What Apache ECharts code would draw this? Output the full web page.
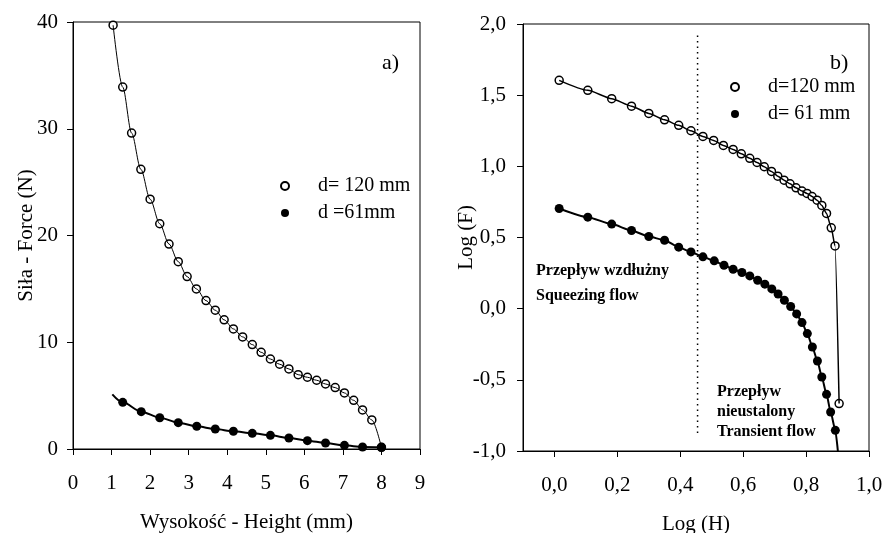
<!DOCTYPE html>
<html>
<head>
<meta charset="utf-8">
<script src="https://cdn.jsdelivr.net/npm/echarts@6/dist/echarts.min.js"></script>
<style>
  html, body { margin: 0; padding: 0; background: #fff; }
  #chart { width: 887px; height: 533px; }
</style>
</head>
<body>
<div id="chart"></div>
<script>
// panel a) height H (mm) vs force F (N)
const a120 = [
  [1.04, 39.7], [1.29, 33.9], [1.52, 29.6], [1.76, 26.2], [2.0, 23.4], [2.25, 21.1],
  [2.49, 19.2], [2.73, 17.55], [2.96, 16.15], [3.2, 15.0], [3.45, 13.9], [3.69, 13.0],
  [3.92, 12.1], [4.16, 11.25], [4.4, 10.5], [4.65, 9.78], [4.88, 9.06], [5.12, 8.43],
  [5.36, 7.94], [5.6, 7.5], [5.84, 6.96], [6.08, 6.72], [6.32, 6.44], [6.55, 6.09],
  [6.8, 5.75], [7.04, 5.25], [7.28, 4.56], [7.51, 3.66], [7.75, 2.72], [8.0, 0.16]
];
const a61 = [
  [1.29, 4.37], [1.77, 3.5], [2.25, 2.93], [2.73, 2.47], [3.21, 2.13], [3.69, 1.87],
  [4.16, 1.66], [4.65, 1.47], [5.12, 1.28], [5.6, 1.03], [6.08, 0.78], [6.55, 0.56],
  [7.04, 0.34], [7.51, 0.19], [8.0, 0.16]
];
const a61Start = [1.02, 5.12];

// panel b) log H vs log F
const b120 = [
  [0.015, 1.604], [0.106, 1.534], [0.182, 1.475], [0.245, 1.423], [0.3, 1.372],
  [0.35, 1.327], [0.395, 1.288], [0.434, 1.25], [0.472, 1.21], [0.506, 1.182],
  [0.537, 1.147], [0.568, 1.119], [0.594, 1.088], [0.621, 1.056], [0.644, 1.027],
  [0.667, 0.997], [0.69, 0.964], [0.71, 0.931], [0.73, 0.903], [0.749, 0.877],
  [0.768, 0.849], [0.787, 0.826], [0.803, 0.81], [0.819, 0.788], [0.835, 0.762],
  [0.85, 0.725], [0.865, 0.669], [0.88, 0.568], [0.892, 0.441], [0.905, -0.667]
];
const b61 = [
  [0.015, 0.704], [0.106, 0.643], [0.182, 0.594], [0.245, 0.549], [0.3, 0.507],
  [0.35, 0.481], [0.395, 0.432], [0.434, 0.399], [0.472, 0.364], [0.508, 0.336],
  [0.539, 0.305], [0.568, 0.277], [0.596, 0.254], [0.621, 0.23], [0.646, 0.2],
  [0.669, 0.172], [0.691, 0.139], [0.711, 0.103], [0.731, 0.059], [0.751, 0.015],
  [0.77, -0.037], [0.787, -0.098], [0.804, -0.175], [0.82, -0.269], [0.836, -0.368],
  [0.85, -0.48], [0.865, -0.602], [0.878, -0.726], [0.893, -0.855]
];
const b61End = [0.901, -1.0];
const divider = [[0.455, 1.92], [0.455, -0.88]];

const bTicks = [0, 0.2, 0.4, 0.6, 0.8, 1.0];

const serif = 'Liberation Serif';
const comma = (v) => v.toFixed(1).replace('.', ',');

const myChart = echarts.init(document.getElementById('chart'));

function axisBase() {
  return {
    axisLine: { show: true, onZero: false, lineStyle: { color: '#000', width: 1 } },
    axisTick: { show: true, inside: false, length: 6, lineStyle: { color: '#000' } },
    splitLine: { show: false },
    nameMoveOverlap: false,
    nameTextStyle: { color: '#000', fontFamily: serif, fontSize: 21 },
  };
}

const tickFont = { color: '#000', fontFamily: serif, fontSize: 21 };
const openDot = { color: '#fff', borderColor: '#000', borderWidth: 1.5, opacity: 1 };
const fullDot = { color: '#000', opacity: 1 };
const noteFont = 'bold 16px "Liberation Serif"';

const option = {
  animation: false,
  backgroundColor: '#fff',
  grid: [
    { left: 73, top: 22, width: 347, height: 427, show: true, borderColor: '#000', borderWidth: 1, outerBoundsMode: 'none', containLabel: false },
    { left: 523, top: 24, width: 346, height: 427, show: true, borderColor: '#000', borderWidth: 1, outerBoundsMode: 'none', containLabel: false },
  ],
  xAxis: [
    Object.assign(axisBase(), {
      gridIndex: 0, type: 'value', min: 0, max: 9, interval: 1,
      name: 'Wysokość - Height (mm)', nameLocation: 'middle', nameGap: 63,
      axisLabel: Object.assign({ margin: 24 }, tickFont),
    }),
    Object.assign(axisBase(), {
      gridIndex: 1, type: 'value', min: -0.1, max: 1.0, interval: 0.1,
      name: 'Log (H)', nameLocation: 'middle', nameGap: 63,
      axisTick: { show: true, length: 6, lineStyle: { color: '#000' }, customValues: bTicks },
      axisLabel: Object.assign({ margin: 24, customValues: bTicks, formatter: comma }, tickFont),
    }),
  ],
  yAxis: [
    Object.assign(axisBase(), {
      gridIndex: 0, type: 'value', min: 0, max: 40, interval: 10,
      name: 'Siła - Force (N)', nameLocation: 'middle', nameGap: 36,
      axisLabel: Object.assign({ margin: 15 }, tickFont),
    }),
    Object.assign(axisBase(), {
      gridIndex: 1, type: 'value', min: -1, max: 2, interval: 0.5,
      name: 'Log (F)', nameLocation: 'middle', nameGap: 46,
      axisLabel: Object.assign({ margin: 17, formatter: comma }, tickFont),
    }),
  ],
  legend: [
    {
      left: 275, top: 171, orient: 'vertical', itemWidth: 30, itemHeight: 8, itemGap: 7,
      data: ['d= 120 mm', 'd =61mm'],
      textStyle: { color: '#000', fontFamily: serif, fontSize: 20, padding: [0, 0, 0, 13] },
    },
    {
      left: 725, top: 72, orient: 'vertical', itemWidth: 30, itemHeight: 8, itemGap: 7,
      data: ['d=120 mm', 'd= 61 mm'],
      textStyle: { color: '#000', fontFamily: serif, fontSize: 20, padding: [0, 0, 0, 13] },
    },
  ],
  graphic: [
    { type: 'text', left: 382, top: 52, style: { text: 'a)', font: '22px "Liberation Serif"', fill: '#000' } },
    { type: 'text', left: 830, top: 52, style: { text: 'b)', font: '22px "Liberation Serif"', fill: '#000' } },
    { type: 'text', left: 536, top: 263, style: { text: 'Przepływ wzdłużny', font: noteFont, fill: '#000' } },
    { type: 'text', left: 536, top: 288, style: { text: 'Squeezing flow', font: noteFont, fill: '#000' } },
    { type: 'text', left: 717, top: 384, style: { text: 'Przepływ', font: noteFont, fill: '#000' } },
    { type: 'text', left: 717, top: 404, style: { text: 'nieustalony', font: noteFont, fill: '#000' } },
    { type: 'text', left: 717, top: 424, style: { text: 'Transient flow', font: noteFont, fill: '#000' } },
  ],
  series: [
    // panel a
    {
      type: 'line', xAxisIndex: 0, yAxisIndex: 0, data: a120, smooth: 0.3, smoothMonotone: 'x',
      symbol: 'none', lineStyle: { color: '#000', width: 1 }, silent: true,
    },
    {
      type: 'line', xAxisIndex: 0, yAxisIndex: 0, data: [a61Start].concat(a61), smooth: 0.3, smoothMonotone: 'x',
      symbol: 'none', lineStyle: { color: '#000', width: 2 }, silent: true,
    },
    {
      name: 'd= 120 mm', type: 'scatter', xAxisIndex: 0, yAxisIndex: 0, data: a120,
      symbol: 'circle', symbolSize: 8, itemStyle: openDot,
    },
    {
      name: 'd =61mm', type: 'scatter', xAxisIndex: 0, yAxisIndex: 0, data: a61,
      symbol: 'circle', symbolSize: 9, itemStyle: fullDot,
    },
    // panel b
    {
      type: 'line', xAxisIndex: 1, yAxisIndex: 1, data: divider, symbol: 'none',
      lineStyle: { color: '#000', width: 1.5, type: [1.5, 4] }, silent: true,
    },
    {
      type: 'line', xAxisIndex: 1, yAxisIndex: 1, data: b120, smooth: 0.2, smoothMonotone: 'x',
      symbol: 'none', lineStyle: { color: '#000', width: 1.5 }, silent: true,
    },
    {
      type: 'line', xAxisIndex: 1, yAxisIndex: 1, data: b61.concat([b61End]), smooth: 0.2, smoothMonotone: 'x',
      symbol: 'none', lineStyle: { color: '#000', width: 2 }, silent: true,
    },
    {
      name: 'd=120 mm', type: 'scatter', xAxisIndex: 1, yAxisIndex: 1, data: b120,
      symbol: 'circle', symbolSize: 8, itemStyle: openDot,
    },
    {
      name: 'd= 61 mm', type: 'scatter', xAxisIndex: 1, yAxisIndex: 1, data: b61,
      symbol: 'circle', symbolSize: 9, itemStyle: fullDot,
    },
  ],
};

myChart.setOption(option);
</script>
</body>
</html>
